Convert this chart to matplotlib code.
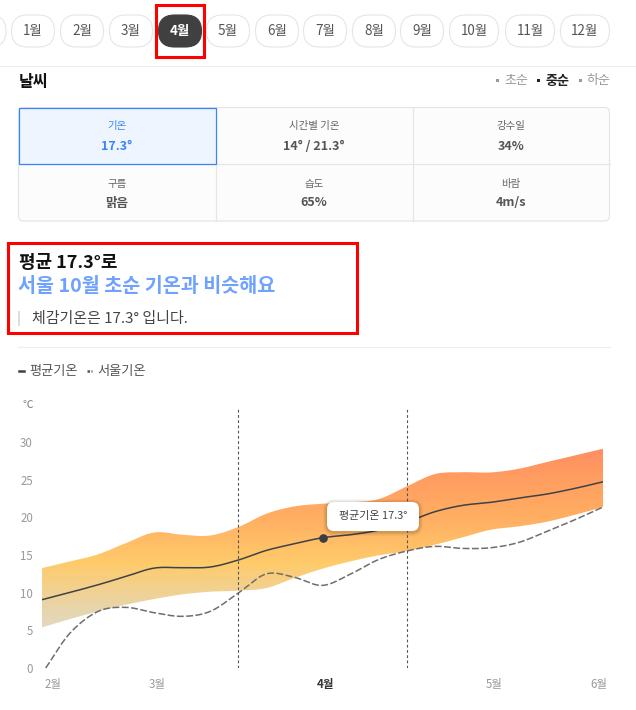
import numpy as np
import matplotlib
matplotlib.use("Agg")
import matplotlib.pyplot as plt
from matplotlib.patches import FancyBboxPatch, Rectangle
from matplotlib.colors import LinearSegmentedColormap

plt.rcParams['font.family'] = ['Noto Sans CJK KR', 'DejaVu Sans']

months = ['1월','2월','3월','4월','5월','6월','7월','8월','9월','10월','11월','12월']
cells = [('기온','17.3°'),('시간별 기온','14° / 21.3°'),('강수일','34%'),
         ('구름','맑음'),('습도','65%'),('바람','4m/s')]
x_ticks = [2.40, 3.02, 4.02, 5.02, 5.64]
x_tick_labels = ['2월','3월','4월','5월','6월']
y_ticks = [0, 5, 10, 15, 20, 25, 30]

# month position, one sample every 5 days or so
x_month = [2.333,2.5,2.667,2.833,3.0,3.167,3.333,3.5,3.667,3.833,4.0,
           4.167,4.333,4.5,4.667,4.833,5.0,5.167,5.333,5.5,5.667]
band_high = [13.27,14.16,15.1,16.6,18.0,17.7,17.6,18.72,20.49,21.46,21.81,
             22.0,22.43,24.1,25.75,26.0,25.97,26.46,27.35,28.23,29.12]
band_low = [5.4,6.5,7.52,8.41,9.16,9.78,10.13,10.27,10.62,11.95,13.19,
            14.16,14.96,15.53,16.37,17.35,18.36,18.81,19.42,20.35,21.37]
mean_temp = [9.07,10.04,11.06,12.17,13.27,13.32,13.41,14.34,15.62,16.5,17.3,
             17.7,18.3,19.38,20.75,21.6,22.0,22.57,23.1,23.85,24.73]
x_seoul = [2.355,2.5,2.667,2.833,3.0,3.167,3.333,3.5,3.667,3.833,4.0,
           4.167,4.333,4.5,4.667,4.833,5.0,5.167,5.333,5.5,5.667]
seoul_temp = [0,4.65,7.52,8.05,7.34,6.86,7.52,9.96,12.5,12.04,10.97,
              12.48,14.4,15.53,16.15,15.88,15.97,16.68,18.14,19.69,21.37]
current_x, current_temp = 4.0, 17.3
split_lines = [3.5, 4.5]


def smooth(xs, ys, n=12):
    """Catmull-Rom curve through the read values."""
    p = np.column_stack([xs, ys]).astype(float)
    p = np.vstack([2*p[0]-p[1], p, 2*p[-1]-p[-2]])
    out = []
    for i in range(1, len(p)-2):
        t = np.linspace(0, 1, n, endpoint=False)[:, None]
        a, b, c, d = p[i-1], p[i], p[i+1], p[i+2]
        out.append(0.5*(2*b + (c-a)*t + (2*a-5*b+4*c-d)*t**2 + (3*b-a-3*c+d)*t**3))
    out.append(p[-2][None, :])
    o = np.vstack(out)
    return o[:, 0], o[:, 1]


W, H = 636, 710
fig = plt.figure(figsize=(W/100, H/100), dpi=100, facecolor='white')


def px(v):
    return v*0.72


# ---------- chart ----------
left, right, bottom, top = 42, 603, 668, 407
ax = fig.add_axes([left/W, 1-bottom/H, (right-left)/W, (bottom-top)/H])
ax.set_xlim(2.333, 5.667)
ax.set_ylim(0, (668-407)/7.53)
for s in ax.spines.values():
    s.set_visible(False)
ax.patch.set_alpha(0)

xh, yh = smooth(x_month, band_high)
xl, yl = smooth(x_month, band_low)
xm, ym = smooth(x_month, mean_temp)
xs, ys = smooth(x_seoul, seoul_temp)

cmap = LinearSegmentedColormap.from_list('band', [
    (0.0, '#E2DAC8'), (0.13, '#E6D6B0'), (0.38, '#FFCB6B'),
    (0.62, '#FFAE62'), (0.85, '#FF9A60'), (1.0, '#FF8A64')])
poly = ax.fill_between(xh, yl, yh, color='none', lw=0)
grid_y = np.linspace(4, 30, 300)[:, None]
im = ax.imshow(grid_y, extent=[2.333, 5.667, 4, 30], origin='lower', aspect='auto',
               cmap=cmap, zorder=1)
im.set_clip_path(poly.get_paths()[0], transform=ax.transData)
ax.set_xlim(2.333, 5.667)
ax.set_ylim(0, (668-407)/7.53)

ax.plot(xm, ym, color='#3f4246', lw=1.1, zorder=3)
ax.plot(xs, ys, color='#6e6e6e', lw=1.1, dashes=(4.5, 1.6), zorder=3, clip_on=False)
for v in split_lines:
    ax.axvline(v, color='#555555', lw=0.8, dashes=(2.5, 2.2), zorder=4)
ax.plot([current_x], [current_temp], 'o', color='#3a3d42', ms=5.2, zorder=5)

ax.set_yticks(y_ticks)
ax.set_yticklabels([str(v) for v in y_ticks], fontsize=px(11.5), color='#999999')
ax.set_xticks(x_ticks)
ax.set_xticklabels(x_tick_labels, fontsize=px(11.5), color='#999999')
ax.get_xticklabels()[2].set_color('#333333')
ax.get_xticklabels()[2].set_fontweight('bold')
ax.tick_params(length=0, axis='y', pad=6.5)
ax.tick_params(length=0, axis='x', pad=7)

# ---------- page furniture, in screen pixels ----------
ui = fig.add_axes([0, 0, 1, 1], zorder=10)
ui.set_xlim(0, W)
ui.set_ylim(H, 0)
ui.axis('off')
ui.patch.set_alpha(0)


def T(x, y, s, size, color='#333333', ha='center', weight='normal'):
    ui.text(x, y+1, s, fontsize=px(size), color=color, ha=ha, va='center', fontweight=weight, zorder=7)


def box(x0, y0, x1, y1, r, fc='white', ec='#e6e6e6', lw=0.8, z=2):
    p = FancyBboxPatch((x0, y0), x1-x0, y1-y0, boxstyle=f'round,pad=0,rounding_size={r}',
                       fc=fc, ec=ec, lw=lw, zorder=z, mutation_aspect=1)
    ui.add_patch(p)


# month pills
pill_c = [33, 82, 131, 180, 228, 277, 325, 374, 422, 474, 530, 585]
box(-40, 15, 6, 47, 16)
for c, m in zip(pill_c, months):
    w = 24.5 if len(m) == 3 else 21.5
    if m == '4월':
        box(c-w, 15, c+w, 47, 16, fc='#404040', ec='#404040')
        T(c, 30, m, 13.5, color='white', weight='bold')
    else:
        box(c-w, 15, c+w, 47, 16)
        T(c, 30, m, 13.5, color='#555555')
ui.add_patch(Rectangle((155.5, 5), 48, 51.5, fc='none', ec='#ff0000', lw=2.2, zorder=6))
ui.plot([0, W], [65.5, 65.5], color='#eeeeee', lw=0.8)

# section head
T(19, 81.5, '날씨', 16, color='#111111', ha='left', weight='bold')
for dx, tx, s, col, wt in [(497, 516, '초순', '#999999', 'normal'),
                           (538, 557.5, '중순', '#222222', 'bold'),
                           (580, 598, '하순', '#999999', 'normal')]:
    ui.add_patch(Rectangle((dx-1.5, 78.5), 3, 3, fc=col, ec='none'))
    T(tx, 79.5, s, 13, color=col, weight=wt)

# table
box(18.5, 107.5, 609.5, 221, 5, fc='#fcfcfc', ec='#e4e4e4')
ui.plot([18.5, 609.5], [164, 164], color='#e6e6e6', lw=0.9, zorder=3)
for xv in (216, 412.5):
    ui.plot([xv, xv], [107.5, 221], color='#e6e6e6', lw=0.9, zorder=3)
ui.add_patch(Rectangle((18.5, 107.5), 197.5, 56.5, fc='#eef5ff', ec='#3a85f5', lw=0.9, zorder=4))
cx = [117, 314, 511]
for i, (lab, val) in enumerate(cells):
    x = cx[i % 3]
    y1, y2 = (125.5, 145) if i < 3 else (182.5, 202)
    selected = i == 0
    T(x, y1, lab, 10.5, color='#3a85f5' if selected else '#666666')
    T(x, y2, val, 12.5, color='#3a85f5' if selected else '#555555', weight='bold')

# headline box
ui.add_patch(Rectangle((7.5, 242.5), 349, 90, fc='none', ec='#ff0000', lw=2.2, zorder=6))
T(19, 262, '평균 17.3°로', 18, color='#111111', ha='left', weight='bold')
T(18.5, 285.5, '서울 10월 초순 기온과 비슷해요', 19.6, color='#6fa1ff', ha='left', weight='bold')
ui.add_patch(Rectangle((18, 311), 2, 15, fc='#dddddd', ec='none'))
T(32, 317.5, '체감기온은 17.3° 입니다.', 15, color='#444444', ha='left')
ui.plot([18, 610], [346.5, 346.5], color='#eeeeee', lw=0.8)

# legend
ui.plot([18.5, 23.5], [371, 371], color='#3f4246', lw=1.8)
T(29, 370.5, '평균기온', 13.2, color='#555555', ha='left')
ui.plot([87, 92], [371, 371], color='#555555', lw=1.8, dashes=(1, 0.6))
T(97.5, 370.5, '서울기온', 13.2, color='#555555', ha='left')
T(33, 403.5, '℃', 10.5, color='#777777', ha='right')

# tooltip
for grow, al in [(4, .03), (3, .04), (2, .05), (1, .06)]:
    p = FancyBboxPatch((327-grow, 502-grow+1), 92+2*grow, 29+2*grow,
                       boxstyle=f'round,pad=0,rounding_size={7+grow}',
                       fc='black', ec='none', alpha=al, zorder=7)
    ui.add_patch(p)
box(327, 502, 419, 531, 7, fc='white', ec='none', lw=0, z=8)
ui.text(373, 516.5, '평균기온 17.3°', fontsize=px(11), color='#444444', ha='center', va='center', zorder=9)

fig.savefig('out.png', dpi=100)
